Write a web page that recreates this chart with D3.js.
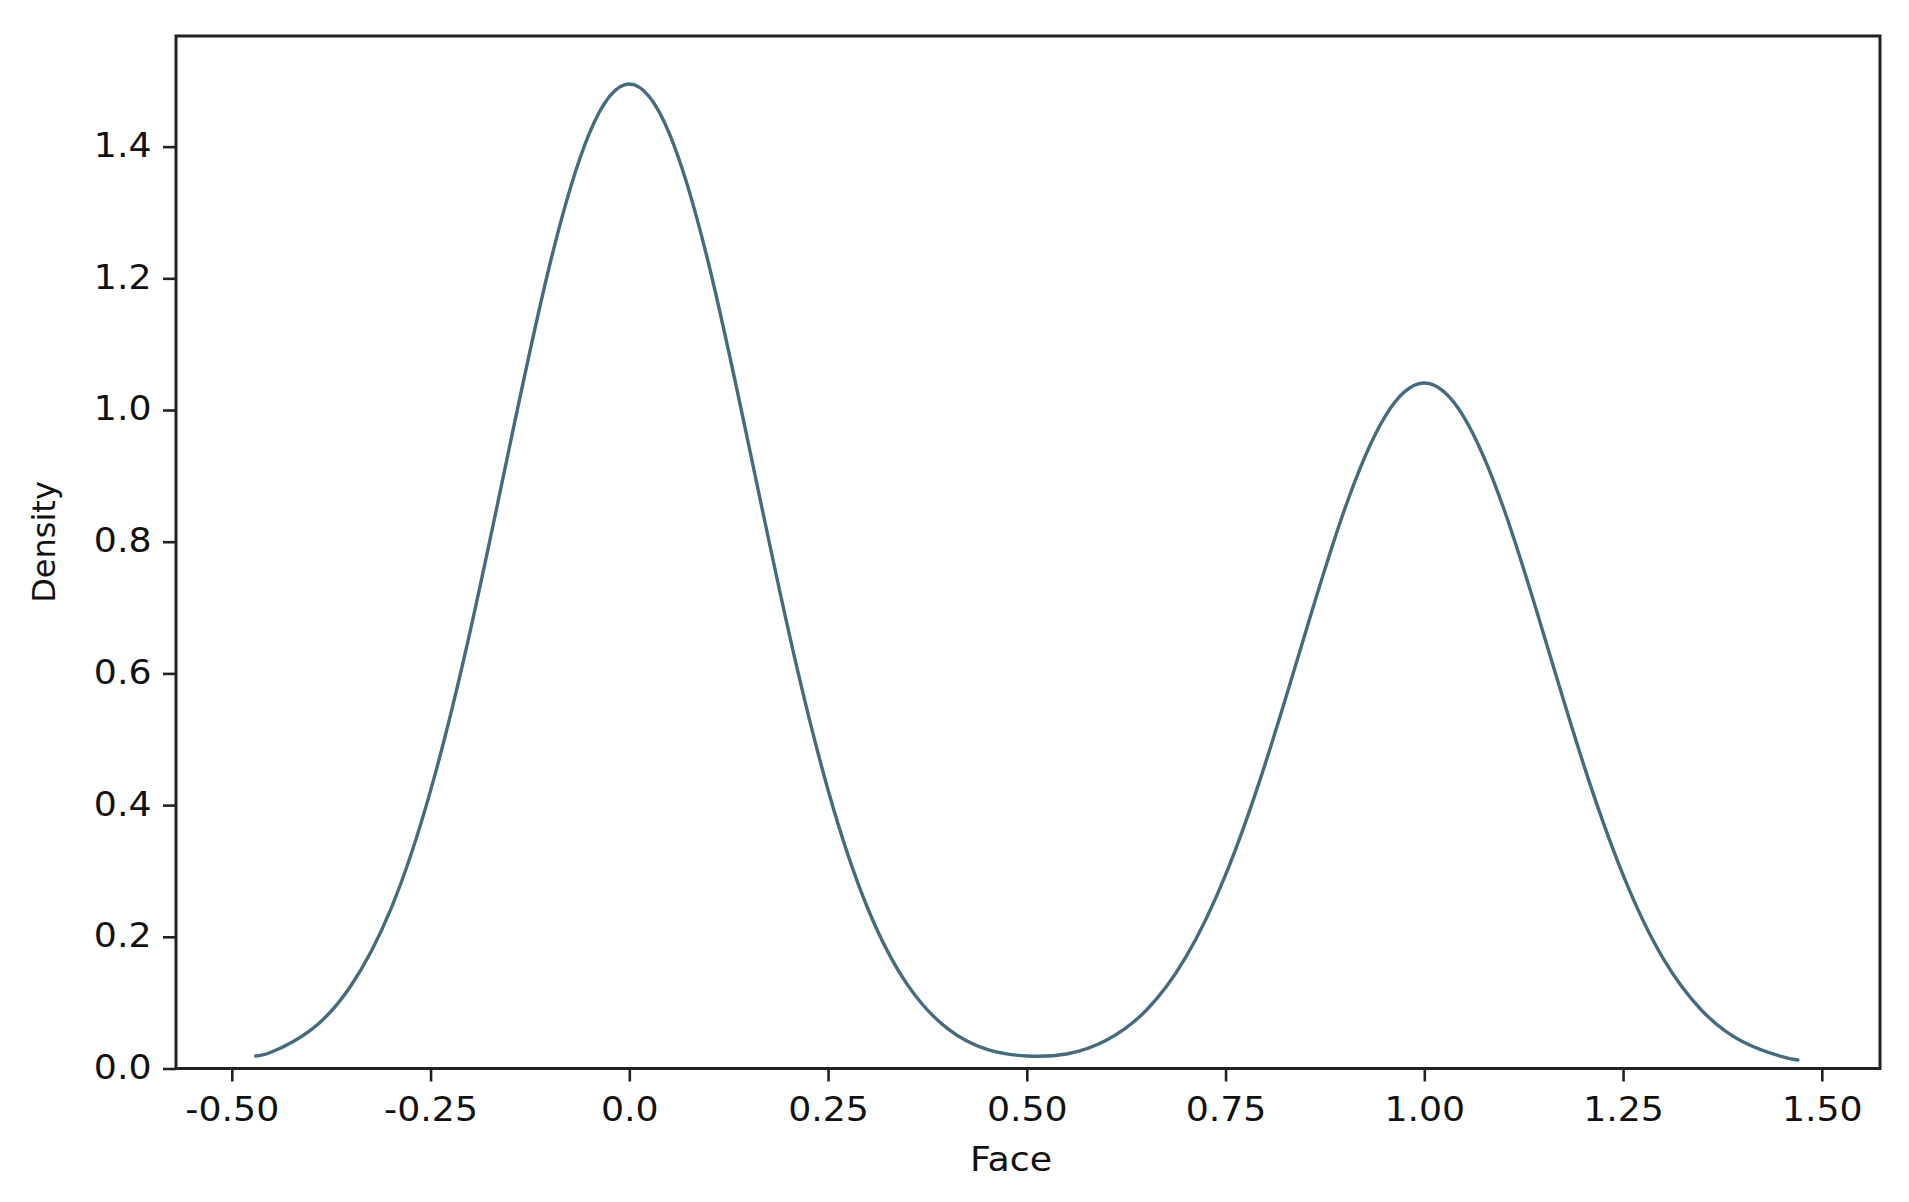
<!DOCTYPE html>
<html>
<head>
<meta charset="utf-8">
<script src="https://cdn.jsdelivr.net/npm/d3@7"></script>
<style>
  html, body { margin: 0; padding: 0; background: #ffffff; }
  svg { display: block; }
  text { font-family: "DejaVu Sans", Verdana, sans-serif; fill: #111; }
</style>
</head>
<body>
<svg id="chart" width="1909" height="1202"></svg>
<script>
// ---- data ----
const faceValues = [-0.47, -0.45, -0.40, -0.35, -0.30, -0.25, -0.20, -0.15, -0.10, -0.05,
  0.00, 0.05, 0.10, 0.15, 0.20, 0.25, 0.30, 0.35, 0.40, 0.45,
  0.50, 0.55, 0.60, 0.65, 0.70, 0.75, 0.80, 0.85, 0.90, 0.95,
  1.00, 1.05, 1.10, 1.15, 1.20, 1.25, 1.30, 1.35, 1.40, 1.45, 1.47];
const densityValues = [0.019, 0.025, 0.059, 0.126, 0.242, 0.422, 0.665, 0.948, 1.221, 1.421,
  1.495, 1.421, 1.221, 0.948, 0.666, 0.423, 0.243, 0.127, 0.061, 0.029,
  0.019, 0.022, 0.043, 0.088, 0.169, 0.294, 0.463, 0.660, 0.850, 0.989,
  1.041, 0.989, 0.850, 0.660, 0.463, 0.294, 0.168, 0.087, 0.041, 0.018, 0.013];
const xTickValues = [-0.5, -0.25, 0, 0.25, 0.5, 0.75, 1.0, 1.25, 1.5];
const xTickLabels = ["-0.50", "-0.25", "0.0", "0.25", "0.50", "0.75", "1.00", "1.25", "1.50"];
const yTickValues = [0.0, 0.2, 0.4, 0.6, 0.8, 1.0, 1.2, 1.4];
const yTickLabels = ["0.0", "0.2", "0.4", "0.6", "0.8", "1.0", "1.2", "1.4"];
const xLabel = "Face";
const yLabel = "Density";

(function () {
  // ---- layout ----
  const plotLeft = 176, plotRight = 1880, plotTop = 36, plotBottom = 1068.5;
  const svg = d3.select("#chart");

  const x = d3.scaleLinear().domain([-0.5702, 1.5732]).range([plotLeft, plotRight]);
  const y = d3.scaleLinear().domain([0, 1.568]).range([plotBottom, plotTop]);

  const axisColor = "#222";
  const fontSize = 33;

  // x axis
  const gx = svg.append("g")
    .attr("transform", `translate(0,${plotBottom})`)
    .call(d3.axisBottom(x).tickValues(xTickValues)
      .tickFormat((d, i) => xTickLabels[i])
      .tickSize(13).tickSizeOuter(0).tickPadding(16.5));
  gx.select(".domain").remove();
  gx.selectAll(".tick line").attr("stroke", axisColor).attr("stroke-width", 2.6);
  gx.selectAll(".tick text")
    .attr("font-size", fontSize)
    .attr("font-family", "DejaVu Sans, Verdana, sans-serif")
    .attr("fill", "#111")
    .attr("transform", "scale(1.1,1)");

  // y axis
  const gy = svg.append("g")
    .attr("transform", `translate(${plotLeft},0)`)
    .call(d3.axisLeft(y).tickValues(yTickValues)
      .tickFormat((d, i) => yTickLabels[i])
      .tickSize(13).tickSizeOuter(0).tickPadding(11));
  gy.select(".domain").remove();
  gy.selectAll(".tick line").attr("stroke", axisColor).attr("stroke-width", 2.6);
  gy.selectAll(".tick text")
    .attr("font-size", fontSize)
    .attr("font-family", "DejaVu Sans, Verdana, sans-serif")
    .attr("fill", "#111")
    .attr("x", 0)
    .attr("dy", "0.30em")
    .attr("transform", "translate(-24.5,0) scale(1.1,1)");

  // frame
  svg.append("rect")
    .attr("x", plotLeft).attr("y", plotTop)
    .attr("width", plotRight - plotLeft).attr("height", plotBottom - plotTop)
    .attr("fill", "none").attr("stroke", axisColor).attr("stroke-width", 3);

  // density curve
  const pts = faceValues.map((v, i) => [v, densityValues[i]]);
  const line = d3.line()
    .x(d => x(d[0]))
    .y(d => y(d[1]))
    .curve(d3.curveNatural);
  svg.append("path")
    .datum(pts)
    .attr("d", line)
    .attr("fill", "none")
    .attr("stroke", "#456b7d")
    .attr("stroke-width", 3.4)
    .attr("stroke-linejoin", "round")
    .attr("stroke-linecap", "round");

  // axis labels
  svg.append("text")
    .attr("x", 0).attr("y", 0)
    .attr("transform", "translate(1011,1171) scale(1.1,1)")
    .attr("text-anchor", "middle")
    .attr("font-size", fontSize)
    .text(xLabel);

  svg.append("text")
    .attr("transform", "translate(55,542) rotate(-90)")
    .attr("text-anchor", "middle")
    .attr("font-size", 32)
    .text(yLabel);
})();
</script>
</body>
</html>
